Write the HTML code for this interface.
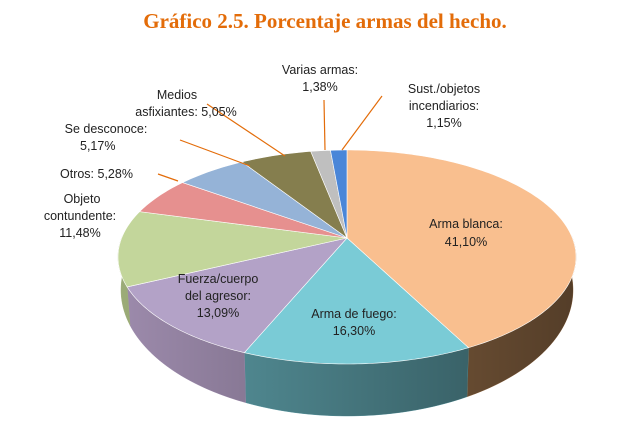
<!DOCTYPE html>
<html><head><meta charset="utf-8"><style>
body{margin:0;background:#fff;width:640px;height:441px;overflow:hidden}
svg{display:block}
text{font-family:"Liberation Sans",sans-serif;font-size:12.5px;fill:#222}
</style></head><body>
<svg id="s" width="640" height="441" xmlns="http://www.w3.org/2000/svg">
<defs><linearGradient id="sh" gradientUnits="userSpaceOnUse" x1="118" y1="0" x2="578" y2="0">
<stop offset="0" stop-color="#000" stop-opacity="0.05"/><stop offset="1" stop-color="#000" stop-opacity="0.5"/></linearGradient></defs>
<text x="325" y="28" text-anchor="middle" style="font-family:'Liberation Serif',serif;font-size:21px;font-weight:bold;fill:#E36C09">Gráfico 2.5. Porcentaje armas del hecho.</text>
<g id="pie"></g>
<g stroke="#E36C09" stroke-width="1.2" fill="none">
<line x1="207" y1="104" x2="285" y2="156"/>
<line x1="180" y1="140" x2="250" y2="166"/>
<line x1="158" y1="174" x2="178" y2="181"/>
<line x1="324" y1="100" x2="325" y2="150"/>
<line x1="382" y1="96" x2="342" y2="150"/>
</g>
<text x="177" y="99" text-anchor="middle">Medios</text>
<text x="186" y="116" text-anchor="middle">asfixiantes: 5,05%</text>
<text x="106" y="133" text-anchor="middle">Se desconoce:</text>
<text x="80" y="150">5,17%</text>
<text x="60" y="178">Otros: 5,28%</text>
<text x="82" y="203" text-anchor="middle">Objeto</text>
<text x="80" y="220" text-anchor="middle">contundente:</text>
<text x="80" y="237" text-anchor="middle">11,48%</text>
<text x="320" y="74" text-anchor="middle">Varias armas:</text>
<text x="320" y="91" text-anchor="middle">1,38%</text>
<text x="444" y="93" text-anchor="middle">Sust./objetos</text>
<text x="444" y="110" text-anchor="middle">incendiarios:</text>
<text x="444" y="127" text-anchor="middle">1,15%</text>
<text x="466" y="228" text-anchor="middle">Arma blanca:</text>
<text x="466" y="246" text-anchor="middle">41,10%</text>
<text x="354" y="318" text-anchor="middle">Arma de fuego:</text>
<text x="354" y="335" text-anchor="middle">16,30%</text>
<text x="218" y="283" text-anchor="middle">Fuerza/cuerpo</text>
<text x="218" y="300" text-anchor="middle">del agresor:</text>
<text x="218" y="317" text-anchor="middle">13,09%</text>
</svg>
<script>
var cx=347,cy=257,rx=229,ry=107,ax=347,ay=238,bcy=290,bry=126,brx=226;
var data=[[41.10,"#F9BF8F","#A77A50"],[16.30,"#7ACBD6","#5FA2AC"],[13.09,"#B3A2C7","#A592B5"],[11.48,"#C3D69B","#A4B57E"],[5.28,"#E6908F","#B86A69"],[5.17,"#95B3D7","#6F8CB0"],[5.05,"#857E4E","#625C35"],[1.38,"#BFBFBF","#999"],[1.15,"#4A86D8","#2F62A8"]];
var g=document.getElementById("pie");
function P(t){return (cx+rx*Math.cos(t)).toFixed(2)+","+(cy+ry*Math.sin(t)).toFixed(2)}
function B(t){return (cx+brx*Math.cos(t)).toFixed(2)+","+(bcy+bry*Math.sin(t)).toFixed(2)}
function arc(a1,a2,f){var s="";var n=Math.max(2,Math.ceil(Math.abs(a2-a1)*60));for(var i=0;i<=n;i++){var t=a1+(a2-a1)*i/n;s+=(i?" L":"")+f(t);}return s;}
var cum=0,sl=[];
data.forEach(function(s){var a1=-Math.PI/2+cum*2*Math.PI/100;cum+=s[0];var a2=-Math.PI/2+cum*2*Math.PI/100;sl.push([a1,a2,s]);});
var sides="",tops="";
sl.forEach(function(q){
 var a1=q[0],a2=q[1];
 [[-0.2,Math.PI+0.2],[2*Math.PI-0.2,3*Math.PI+0.2]].forEach(function(r){
  var b1=Math.max(a1,r[0]),b2=Math.min(a2,r[1]);
  if(b2>b1){
   var d="M"+arc(b1,b2,P)+" L"+arc(b2,b1,B)+" Z";
   sides+='<path fill="'+q[2][2]+'" stroke="'+q[2][2]+'" stroke-width="0.5" d="'+d+'"/><path fill="url(#sh)" d="'+d+'"/>';}
 });
 tops+='<path fill="'+q[2][1]+'" stroke="#fff" stroke-width="0.6" d="M'+ax+','+ay+' L'+arc(a1,a2,P)+' Z"/>';
});
g.innerHTML=sides+tops;
</script>
</body></html>
